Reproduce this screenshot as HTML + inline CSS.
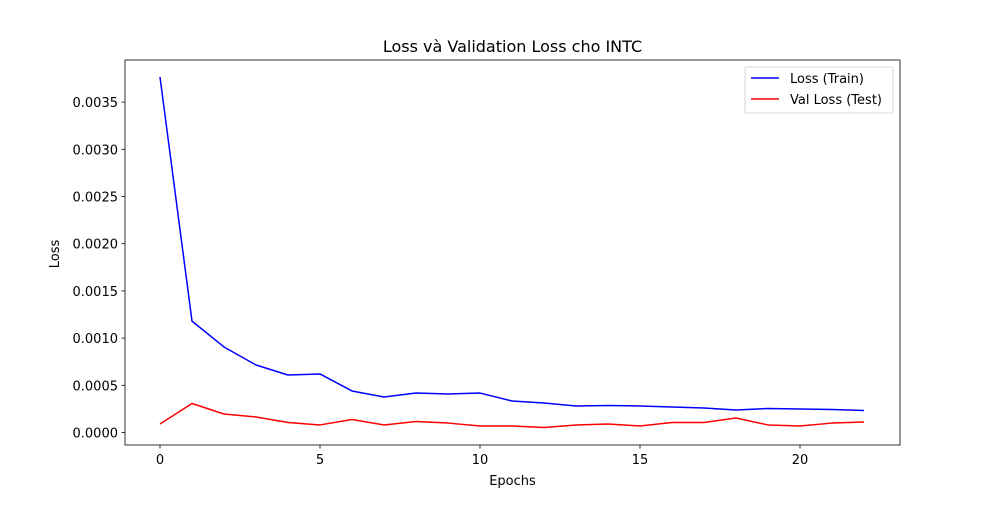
<!DOCTYPE html>
<html><head><meta charset="utf-8"><style>
body{margin:0;background:#fff;font-family:"Liberation Sans","DejaVu Sans",sans-serif}
svg text{font-family:"DejaVu Sans","Liberation Sans",sans-serif;font-size:13px;fill:#000}
</style></head><body>
<svg id="chart" width="1000" height="500" xmlns="http://www.w3.org/2000/svg"></svg>
<script>
const epochs=[0,1,2,3,4,5,6,7,8,9,10,11,12,13,14,15,16,17,18,19,20,21,22];
const trainLoss=[0.003766,0.00118,0.000906,0.000715,0.000609,0.00062,0.00044,0.000376,0.000418,0.000408,0.000418,0.000334,0.000312,0.000281,0.000286,0.000281,0.00027,0.00026,0.000238,0.000254,0.000249,0.000244,0.000233];
const valLoss=[0.00009,0.000307,0.000196,0.000164,0.000106,0.00008,0.000138,0.00008,0.000117,0.0001,0.000069,0.000069,0.000053,0.00008,0.00009,0.000069,0.000106,0.000106,0.000154,0.00008,0.000069,0.0001,0.000111];
const xTicks=[0,5,10,15,20];
const yTicks=[0,0.0005,0.001,0.0015,0.002,0.0025,0.003,0.0035];
const yTickLabels=["0.0000","0.0005","0.0010","0.0015","0.0020","0.0025","0.0030","0.0035"];

const L=125,R=900,T=60,B=445;
const X=v=>160+v*32;
const Y=v=>432.5-v*94400;
const svg=document.getElementById('chart');
const NS='http://www.w3.org/2000/svg';
function el(tag,attrs,text){const e=document.createElementNS(NS,tag);for(const k in attrs)e.setAttribute(k,attrs[k]);if(text!==undefined)e.textContent=text;svg.appendChild(e);return e;}

let frame=el('rect',{x:L,y:T,width:R-L,height:B-T,fill:'none',stroke:'#000','stroke-width':0.8});



xTicks.forEach(t=>{
  let l=el('line',{x1:X(t),x2:X(t),y1:B,y2:B+3.5,stroke:'#000','stroke-width':0.8});
  
  
  let tx=el('text',{x:X(t),y:B+19,'text-anchor':'middle'},String(t));
  
  
});
yTicks.forEach((t,i)=>{
  let l=el('line',{x1:L-3.5,x2:L,y1:Y(t),y2:Y(t),stroke:'#000','stroke-width':0.8});
  
  
  let tx=el('text',{x:L-7,y:Y(t)+5,'text-anchor':'end'},yTickLabels[i]);
  
  
});

function line(vals,color,name){
  const p=el('polyline',{points:epochs.map((e,i)=>X(e)+','+Y(vals[i])).join(' '),fill:'none',stroke:color,'stroke-width':1.5,'stroke-linejoin':'round'});
  
  
}
line(trainLoss,'#0000ff','train-loss-line');
line(valLoss,'#ff0000','val-loss-line');

let title=el('text',{x:512.5,y:52,'text-anchor':'middle'},'Loss và Validation Loss cho INTC');
title.setAttribute('style','font-size:16px');


let xt=el('text',{x:512.5,y:485,'text-anchor':'middle'},'Epochs');


let yt=el('text',{x:59,y:254,'text-anchor':'middle',transform:'rotate(-90 59 254)'},'Loss');



let lg=el('rect',{x:745,y:67,width:148,height:46,rx:2,fill:'#fff',stroke:'#ccc','stroke-width':0.8});


[['Loss (Train)','#0000ff',79],['Val Loss (Test)','#ff0000',100]].forEach(([t,c,y])=>{
  let l=el('line',{x1:751,x2:779,y1:y-1,y2:y-1,stroke:c,'stroke-width':1.5});
  
  
  let tx=el('text',{x:790,y:y+4},t);
  
  
});
</script>
</body></html>
